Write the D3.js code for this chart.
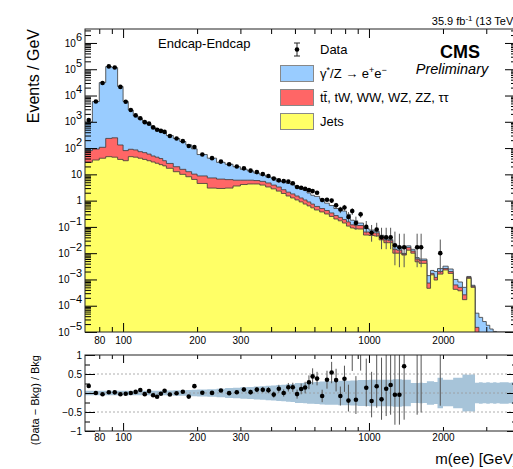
<!DOCTYPE html>
<html>
<head>
<meta charset="utf-8">
<script src="https://cdn.jsdelivr.net/npm/d3@7"></script>
<style>
  body { margin: 0; background: #fff; }
  svg { display: block; font-family: "Liberation Sans", Arial, sans-serif; }
</style>
</head>
<body>
<div id="container"></div>
<script>
"use strict";

// m(ee) bin edges, GeV.
const binEdges = [
  70, 75, 80, 85, 90, 95, 100, 105, 110, 115, 120, 125, 130, 135, 140, 145, 150,
  160, 170, 180, 190, 200,
  220, 240, 260, 280, 300, 320, 340, 360, 380, 400, 420, 440, 460, 480, 500, 520, 540, 560, 580, 600,
  630, 660, 690, 720, 750, 780, 810, 840, 870, 900,
  950, 1000, 1050, 1100, 1150, 1200, 1250, 1300,
  1360, 1420, 1480, 1540, 1600, 1660, 1720, 1780, 1840, 1900,
  2000, 2100, 2200, 2300, 2400, 2500, 2600, 2700,
  2800, 2900, 3000, 3100, 3200, 3300, 3400, 3500, 3600, 3700, 3800, 3900, 4000,
];

// Events / GeV for each stacked background.
const jets = [
  28.8, 35, 41, 47, 45, 37, 33, 47, 45, 41,
  37, 33, 29.5, 26.4, 23.4, 21, 17, 12.6, 10, 8.1,
  6.4, 4.5, 3.0, 2.9, 3.0, 3.6, 4.1, 4.3, 4.3, 3.9,
  3.3, 2.8, 2.3, 1.87, 1.5, 1.26, 1.06, 0.89, 0.74, 0.63,
  0.53, 0.44, 0.37, 0.31, 0.25, 0.2, 0.17, 0.14, 0.107, 0.091,
  0.085, 0.083, 0.049, 0.047, 0.045, 0.032, 0.025, 0.025, 0.01, 0.01,
  0.0085, 0.013, 0.01, 0.0047, 0.0041, 0.0041, 4.6e-4, 1.5e-3, 9.5e-4, 1.6e-3,
  2.3e-3, 1.7e-3, 4.2e-4, 3.7e-4, 1.7e-4, 1.1e-3, 5e-4, 0, 0, 0,
  0, 0, 0, 0, 0, 0, 0, 0, 0, 0,
];
const other = [
  51, 57, 66, 186, 200, 94, 47, 43, 40, 32,
  30, 26, 20.5, 18.6, 16.6, 12, 9, 6.9, 5.5, 4.5,
  3.8, 4.2, 4.3, 3.7, 3.3, 2.4, 1.9, 1.7, 1.5, 1.5,
  1.4, 1.1, 1.0, 0.73, 0.6, 0.54, 0.44, 0.37, 0.32, 0.26,
  0.21, 0.16, 0.13, 0.11, 0.09, 0.07, 0.06, 0.05, 0.048, 0.029,
  0.03, 0.03, 0.015, 0.015, 0.014, 0.01, 0.007, 0.005, 0.004, 0.003,
  7e-4, 3.5e-3, 2e-3, 1.3e-3, 1.2e-3, 1.2e-3, 2.7e-4, 2e-4, 2.5e-4, 4e-4,
  3e-4, 3e-4, 2e-4, 1.3e-4, 9e-5, 1e-4, 5e-5, 1.5e-5, 0, 0,
  0, 0, 0, 0, 0, 0, 0, 0, 0, 0,
];
const drellYan = [
  900, 5800, 30900, 125800, 114800, 21900, 5820, 2710, 1615, 1187,
  933, 751, 600, 505, 420, 357, 274, 212, 162, 120,
  83, 48, 34, 22, 18, 13.5, 9.5, 7.5, 5.4, 4.0,
  3.3, 3.3, 2.0, 2.9, 2.5, 2.2, 1.9, 1.54, 1.39, 1.06,
  0.86, 0.85, 0.65, 0.38, 0.31, 0.23, 0.27, 0.21, 0.145, 0.06,
  0.055, 0.027, 0.024, 0.014, 0.009, 0.006, 0.004, 0.003, 0.007, 0.0045,
  6e-4, 2.5e-3, 2e-3, 8e-4, 7e-4, 7e-4, 6.7e-4, 5e-4, 8e-4, 6e-4,
  6e-4, 5e-4, 3.8e-4, 3e-4, 2.4e-4, 1e-4, 5e-5, 3.7e-5, 3.6e-5, 2.5e-5,
  1.8e-5, 1.3e-5, 1.05e-5, 8e-6, 6e-6, 5e-6, 4e-6, 3e-6, 2.5e-6, 2e-6,
];
// Observed events / GeV (0 = empty bin).
const observed = [
  1160, 5900, 30000, 128500, 117000, 21300, 5780, 2800, 1750, 1360,
  970, 850, 611, 495, 451, 413, 288, 230, 183, 120,
  110, 57, 41.4, 30.5, 24.2, 19.9, 16.9, 13.8, 12.2, 10.2,
  8.6, 6.9, 5.9, 5.5, 5.3, 4.6, 3.3, 3.1, 2.8, 2.5,
  2.3, 2.0, 1.06, 1.08, 1.0, 0.67, 0.46, 0.55, 0.24, 0.4,
  0.14, 0.3, 0.1, 0.06, 0.08, 0.04, 0.04, 0.04, 0.02, 0.0167,
  0.0167, 0, 0, 0.0167, 0.0167, 0, 0, 0, 0, 0.01,
  0, 0, 0, 0, 0, 0, 0, 0, 0, 0,
  0, 0, 0, 0, 0, 0, 0, 0, 0, 0,
];
// Relative background uncertainty (half width of the ratio band).
const bkgUncertainty = [
  0.06, 0.06, 0.06, 0.06, 0.06, 0.06, 0.06, 0.06, 0.06, 0.06,
  0.06, 0.06, 0.06, 0.06, 0.06, 0.06, 0.065, 0.07, 0.075, 0.08,
  0.085, 0.09, 0.1, 0.11, 0.13, 0.14, 0.15, 0.16, 0.17, 0.18,
  0.19, 0.2, 0.21, 0.22, 0.23, 0.24, 0.26, 0.26, 0.27, 0.28,
  0.28, 0.29, 0.3, 0.31, 0.31, 0.31, 0.32, 0.32, 0.32, 0.33,
  0.33, 0.34, 0.34, 0.35, 0.35, 0.35, 0.35, 0.35, 0.36, 0.36,
  0.35, 0.35, 0.26, 0.26, 0.27, 0.26, 0.31, 0.31, 0.29, 0.4,
  0.35, 0.35, 0.4, 0.4, 0.49, 0.48, 0.49, 0.27, 0.28, 0.27,
  0.28, 0.27, 0.28, 0.27, 0.28, 0.28, 0.28, 0.27, 0.28, 0.28,
];

const yExponents = [-5, -4, -3, -2, -1, 0, 1, 2, 3, 4, 5, 6];
const xLabelTicks = [80, 100, 200, 300, 1000, 2000];
const ratioTicks = [-1, -0.5, 0, 0.5, 1];
const legendLabels = ["Data", "γ*/Z → e+e−", "tt̄, tW, WW, WZ, ZZ, ττ", "Jets"];
const colors = { dy: "#99ccff", other: "#ff6666", jets: "#ffff66", band: "#a7c4d9" };

// Garwood 68% intervals for small counts.
const garwoodLow = [0, 0.173, 0.708, 1.367, 2.086, 2.84, 3.62, 4.419, 5.232, 6.057, 6.891];
const garwoodHigh = [1.841, 3.3, 4.638, 5.918, 7.163, 8.382, 9.584, 10.77, 11.95, 13.11, 14.27];

const W = 513;
const H = 469;
const main = { left: 85, right: 517, top: 29, bottom: 332 };
const ratio = { top: 355, bottom: 431 };
const labelSize = 15.5;

const x = d3.scaleLog().domain([70, 4000]).range([main.left, main.right]);
const y = d3.scaleLog().domain([1e-5, 3.4e6]).range([main.bottom, main.top]).clamp(true);
const yr = d3.scaleLinear().domain([-1, 1]).range([ratio.bottom, ratio.top]);

const bins = d3.range(binEdges.length - 1).map((i) => {
  const lo = binEdges[i];
  const hi = binEdges[i + 1];
  const c1 = jets[i];
  const c2 = c1 + other[i];
  const c3 = c2 + drellYan[i];
  return { lo, hi, w: hi - lo, c1, c2, c3, data: observed[i], unc: bkgUncertainty[i] };
});

const svg = d3.select("#container").append("svg").attr("width", W).attr("height", H);
const defs = svg.append("defs");
defs.append("clipPath").attr("id", "clip-main").append("rect")
  .attr("x", main.left).attr("y", main.top)
  .attr("width", main.right - main.left).attr("height", main.bottom - main.top);
defs.append("clipPath").attr("id", "clip-ratio").append("rect")
  .attr("x", main.left).attr("y", ratio.top)
  .attr("width", main.right - main.left).attr("height", ratio.bottom - ratio.top);

/** Step outline points of a histogram value accessor. */
function stepPoints(value, scale, floor) {
  const pts = [];
  for (const b of bins) {
    const v = value(b);
    const yy = v > 0 ? scale(v) : floor;
    pts.push([x(b.lo), yy], [x(b.hi), yy]);
  }
  return pts;
}

/** Poisson error of a data value, in the same units (per GeV). */
function dataErrors(b) {
  const n = Math.round(b.data * b.w);
  if (n <= 10) return { lo: (n - garwoodLow[n]) / b.w, hi: (garwoodHigh[n] - n) / b.w };
  return { lo: Math.sqrt(n) / b.w, hi: Math.sqrt(n) / b.w };
}

// ---- Main panel: stacked backgrounds, drawn back to front.
const plot = svg.append("g").attr("clip-path", "url(#clip-main)");
const layers = [
  { value: (b) => b.c3, fill: colors.dy },
  { value: (b) => b.c2, fill: colors.other },
  { value: (b) => b.c1, fill: colors.jets },
];
for (const layer of layers) {
  const pts = stepPoints(layer.value, y, main.bottom + 2);
  plot.append("path")
    .attr("d", d3.area().x((p) => p[0]).y0(main.bottom + 2).y1((p) => p[1])(pts))
    .attr("fill", layer.fill);
  plot.append("path")
    .attr("d", d3.line()(pts))
    .attr("fill", "none")
    .attr("stroke", "#3a3a3a")
    .attr("stroke-width", 0.8);
}

// Data with error bars.
const withData = bins.filter((b) => b.data > 0);
const xc = (b) => x((b.lo + b.hi) / 2);
plot.append("g").selectAll("line").data(withData).join("line")
  .attr("x1", xc).attr("x2", xc)
  .attr("y1", (b) => y(b.data + dataErrors(b).hi))
  .attr("y2", (b) => (b.data - dataErrors(b).lo > 0 ? y(b.data - dataErrors(b).lo) : main.bottom))
  .attr("stroke", "#555").attr("stroke-width", 1);
plot.append("g").selectAll("circle").data(withData).join("circle")
  .attr("cx", xc).attr("cy", (b) => y(b.data)).attr("r", 2.3).attr("fill", "#000");

// ---- Ratio panel.
const rplot = svg.append("g").attr("clip-path", "url(#clip-ratio)");
const bandPts = [];
for (const b of bins) bandPts.push([x(b.lo), b.unc], [x(b.hi), b.unc]);
rplot.append("path")
  .attr("d", d3.area().x((p) => p[0]).y0((p) => yr(-p[1])).y1((p) => yr(p[1]))(bandPts))
  .attr("fill", colors.band);
rplot.append("g").selectAll("line").data([0.5, 0, -0.5]).join("line")
  .attr("x1", main.left).attr("x2", main.right)
  .attr("y1", (d) => yr(d)).attr("y2", (d) => yr(d))
  .attr("stroke", "#9a9a9a").attr("stroke-width", 0.8).attr("stroke-dasharray", "2,2");

const ratioPts = withData.map((b) => {
  const e = dataErrors(b);
  return { b, r: b.data / b.c3 - 1, lo: e.lo / b.c3, hi: e.hi / b.c3 };
});
rplot.append("g").selectAll("line").data(ratioPts).join("line")
  .attr("x1", (d) => xc(d.b)).attr("x2", (d) => xc(d.b))
  .attr("y1", (d) => yr(Math.min(d.r + d.hi, 2))).attr("y2", (d) => yr(Math.max(d.r - d.lo, -2)))
  .attr("stroke", "#555").attr("stroke-width", 1);
rplot.append("g").selectAll("circle").data(ratioPts.filter((d) => d.r <= 1 && d.r >= -1)).join("circle")
  .attr("cx", (d) => xc(d.b)).attr("cy", (d) => yr(d.r)).attr("r", 2.3).attr("fill", "#000");

// ---- Axes.
const fontAxis = "Liberation Sans, Arial, sans-serif";
const yMajor = yExponents.map((e) => Math.pow(10, e));
const yMinor = [];
for (const e of yExponents) for (let k = 2; k <= 9; k++) if (k * Math.pow(10, e) < 3.4e6) yMinor.push(k * Math.pow(10, e));
const xMajor = [100, 1000];
const xMinor = [80, 90, 200, 300, 400, 500, 600, 700, 800, 900, 2000, 3000, 4000];

function plainAxis(axis, tx, ty) {
  return svg.append("g")
    .attr("transform", `translate(${tx},${ty})`)
    .call(axis.tickFormat(""))
    .call((g) => g.select(".domain").remove());
}

function powerLabel(text) {
  text.each(function (d) {
    const e = Math.round(Math.log10(d));
    const t = d3.select(this).text(null);
    if (e === 0) { t.text("1"); return; }
    if (e === 1) { t.text("10"); return; }
    t.append("tspan").text("10");
    t.append("tspan").attr("dy", "-0.55em").attr("font-size", "11px")
      .text(e < 0 ? "\u2212" + -e : String(e));
  });
}

// Main panel y.
svg.append("g")
  .attr("transform", `translate(${main.left},0)`)
  .attr("font-family", fontAxis).attr("font-size", labelSize)
  .call(d3.axisLeft(y).tickValues(yMajor).tickSize(-12).tickPadding(3))
  .call((g) => g.select(".domain").remove())
  .call((g) => g.selectAll(".tick text").call(powerLabel));
plainAxis(d3.axisLeft(y).tickValues(yMinor).tickSize(-6), main.left, 0);
plainAxis(d3.axisRight(y).tickValues(yMajor).tickSize(-12), main.right, 0);
plainAxis(d3.axisRight(y).tickValues(yMinor).tickSize(-6), main.right, 0);

// Main panel x.
plainAxis(d3.axisBottom(x).tickValues(xMajor).tickSize(-9), 0, main.bottom);
plainAxis(d3.axisBottom(x).tickValues(xMinor).tickSize(-5), 0, main.bottom);
plainAxis(d3.axisTop(x).tickValues(xMajor).tickSize(-9), 0, main.top);
plainAxis(d3.axisTop(x).tickValues(xMinor).tickSize(-5), 0, main.top);
svg.append("g")
  .attr("transform", `translate(0,${main.bottom})`)
  .attr("font-family", fontAxis).attr("font-size", labelSize)
  .call(d3.axisBottom(x).tickValues(xLabelTicks).tickSize(0).tickPadding(5).tickFormat(d3.format("d")))
  .call((g) => g.select(".domain").remove());

// Ratio panel axes.
svg.append("g")
  .attr("transform", `translate(${main.left},0)`)
  .attr("font-family", fontAxis).attr("font-size", labelSize)
  .call(d3.axisLeft(yr).tickValues(ratioTicks).tickSize(-10).tickPadding(3)
    .tickFormat((d) => (d === 0 ? "0" : String(d).replace("-", "\u2212"))))
  .call((g) => g.select(".domain").remove());
plainAxis(d3.axisLeft(yr).tickValues([-0.75, -0.25, 0.25, 0.75]).tickSize(-5), main.left, 0);
plainAxis(d3.axisRight(yr).tickValues(ratioTicks).tickSize(-10), main.right, 0);
plainAxis(d3.axisRight(yr).tickValues([-0.75, -0.25, 0.25, 0.75]).tickSize(-5), main.right, 0);
plainAxis(d3.axisBottom(x).tickValues(xMajor).tickSize(-8), 0, ratio.bottom);
plainAxis(d3.axisBottom(x).tickValues(xMinor).tickSize(-4), 0, ratio.bottom);
plainAxis(d3.axisTop(x).tickValues(xMajor).tickSize(-8), 0, ratio.top);
plainAxis(d3.axisTop(x).tickValues(xMinor).tickSize(-4), 0, ratio.top);
svg.append("g")
  .attr("transform", `translate(0,${ratio.bottom})`)
  .attr("font-family", fontAxis).attr("font-size", labelSize)
  .call(d3.axisBottom(x).tickValues(xLabelTicks).tickSize(0).tickPadding(3).tickFormat(d3.format("d")))
  .call((g) => g.select(".domain").remove());

// Frames.
for (const f of [[main.top, main.bottom], [ratio.top, ratio.bottom]]) {
  svg.append("rect")
    .attr("x", main.left).attr("y", f[0])
    .attr("width", main.right - main.left).attr("height", f[1] - f[0])
    .attr("fill", "none").attr("stroke", "#222").attr("stroke-width", 1);
}

// ---- Titles.
svg.append("text")
  .attr("transform", `translate(39,${main.top}) rotate(-90)`)
  .attr("text-anchor", "end").attr("font-size", 16)
  .text("Events / GeV");
svg.append("text")
  .attr("transform", `translate(39,${ratio.top}) rotate(-90)`)
  .attr("text-anchor", "end").attr("font-size", 11)
  .text("(Data \u2212 Bkg) / Bkg");
svg.append("text")
  .attr("x", main.right).attr("y", 464)
  .attr("text-anchor", "end").attr("font-size", 15)
  .text("m(ee) [GeV]");

const lumi = svg.append("text")
  .attr("x", main.right).attr("y", 25)
  .attr("text-anchor", "end").attr("font-size", 11);
lumi.append("tspan").text("35.9 fb");
lumi.append("tspan").attr("dy", -4).attr("font-size", 8).text("-1");
lumi.append("tspan").attr("dy", 4).text(" (13 TeV)");

svg.append("text").attr("x", 460).attr("y", 58)
  .attr("text-anchor", "middle").attr("font-size", 18).attr("font-weight", "bold").text("CMS");
svg.append("text").attr("x", 452).attr("y", 74)
  .attr("text-anchor", "middle").attr("font-size", 14.5).attr("font-style", "italic").text("Preliminary");
svg.append("text").attr("x", 158).attr("y", 48).attr("font-size", 13).text("Endcap-Endcap");

// ---- Legend.
const legend = svg.append("g").attr("font-size", 13);
legend.append("line").attr("x1", 297).attr("x2", 297).attr("y1", 43).attr("y2", 56)
  .attr("stroke", "#222").attr("stroke-width", 1);
for (const yy of [43, 56]) {
  legend.append("line").attr("x1", 294).attr("x2", 300).attr("y1", yy).attr("y2", yy)
    .attr("stroke", "#222").attr("stroke-width", 1);
}
legend.append("circle").attr("cx", 297).attr("cy", 49.5).attr("r", 2.3).attr("fill", "#000");
legend.append("text").attr("x", 320).attr("y", 54).text(legendLabels[0]);

const boxes = [
  { y: 65, fill: colors.dy },
  { y: 89, fill: colors.other },
  { y: 113, fill: colors.jets },
];
boxes.forEach((bx, i) => {
  legend.append("rect").attr("x", 280.5).attr("y", bx.y + 0.5).attr("width", 33).attr("height", 16)
    .attr("fill", bx.fill).attr("stroke", "#888").attr("stroke-width", 1);
  const t = legend.append("text").attr("x", 320).attr("y", bx.y + 13);
  if (i === 0) {
    t.append("tspan").text("γ");
    t.append("tspan").attr("dy", -5).attr("font-size", 9).text("*");
    t.append("tspan").attr("dy", 5).text("/Z → e");
    t.append("tspan").attr("dy", -5).attr("font-size", 9).text("+");
    t.append("tspan").attr("dy", 5).text("e");
    t.append("tspan").attr("dy", -5).attr("font-size", 9).text("−");
  } else {
    t.text(legendLabels[i + 1]);
  }
});
</script>
</body>
</html>
